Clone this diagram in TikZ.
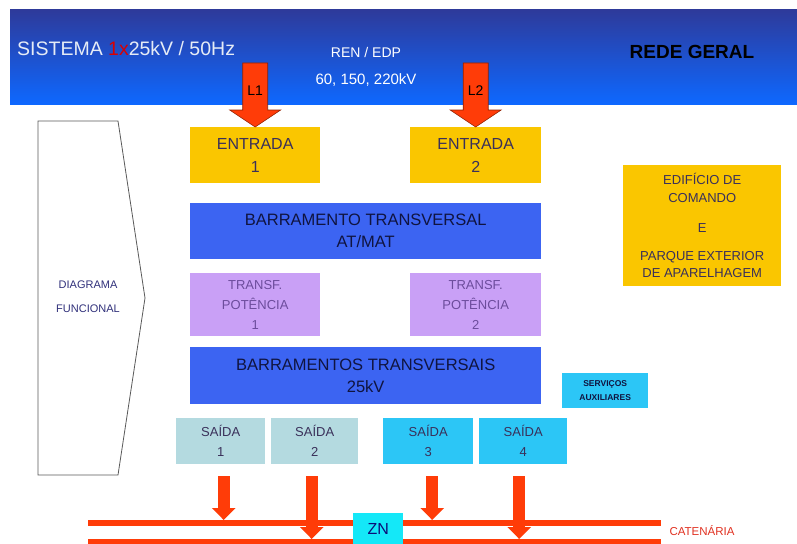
\documentclass[tikz,border=0pt]{standalone}
\usepackage{fontspec}
\setmainfont{Liberation Sans}
\usetikzlibrary{arrows.meta,calc}
\definecolor{hdrtop}{HTML}{2E3A9A}
\definecolor{hdrbot}{HTML}{0E68FF}
\definecolor{gold}{HTML}{FAC600}
\definecolor{busblue}{HTML}{3C64F2}
\definecolor{lav}{HTML}{C9A0F6}
\definecolor{lavtext}{HTML}{6C4C9C}
\definecolor{saigray}{HTML}{B4DAE0}
\definecolor{saicyan}{HTML}{2CC6F6}
\definecolor{zncyan}{HTML}{14E8F8}
\definecolor{redor}{HTML}{FF3C08}
\definecolor{rededge}{HTML}{902000}
\definecolor{darktxt}{HTML}{3A305A}
\definecolor{navytxt}{HTML}{101440}
\definecolor{diagtxt}{HTML}{30307A}
\definecolor{hdrtxt}{HTML}{E6ECF6}
\definecolor{catred}{HTML}{E03020}
\begin{document}
\begin{tikzpicture}[x=1pt,y=1pt,
  blk/.style={rectangle, anchor=north west, inner sep=0pt, align=center},
  entbox/.style={blk, fill=gold, text=darktxt, font=\fontsize{16}{23}\selectfont},
  busbox/.style={blk, fill=busblue, text=navytxt, font=\fontsize{16.5}{22}\selectfont},
  trbox/.style={blk, fill=lav, text=lavtext, font=\fontsize{13}{20}\selectfont},
  saibox/.style={blk, text=darktxt, font=\fontsize{13}{20}\selectfont},
  catline/.style={rectangle, anchor=north west, inner sep=0pt, fill=redor, minimum width=573pt, minimum height=6pt},
  bigarr/.style={fill=redor, draw=rededge, line width=0.6pt, line join=miter},
  outarr/.style={draw=redor, line width=12pt, -{Triangle[width=23pt,length=12pt]}},
  hdrtext/.style={text=white, font=\fontsize{14}{16}\selectfont, inner sep=0pt}
]
\useasboundingbox (0,0) rectangle (797,-543);

% header band
\node (hdr) [rectangle, anchor=north west, inner sep=0pt, minimum width=787pt, minimum height=95pt,
  top color=hdrtop, bottom color=hdrbot] at (10,-9) {};
\node (sis) [anchor=west, inner sep=0pt, text=hdrtxt, font=\fontsize{19.5}{21}\selectfont] at (17,-49)
  {SISTEMA {\color{red!85!black}1x}25kV / 50Hz};
\node (ren) [hdrtext] at (366,-52) {REN / EDP};
\node (kv) [hdrtext, font=\fontsize{15}{17}\selectfont] at (366,-80) {60, 150, 220kV};
\node (rede) [inner sep=0pt, font=\bfseries\fontsize{19}{21}\selectfont, text=black] at (692,-52) {REDE GERAL};

% boxes
\node (e1) [entbox, minimum width=130pt, minimum height=56pt] at (190,-127) {ENTRADA\\1};
\node (e2) [entbox, minimum width=131pt, minimum height=56pt] at (410,-127) {ENTRADA\\2};
\node (bat) [busbox, minimum width=351pt, minimum height=56pt] at (190,-203) {BARRAMENTO TRANSVERSAL\\AT/MAT};
\node (t1) [trbox, minimum width=130pt, minimum height=63pt] at (190,-273) {TRANSF.\\POTÊNCIA\\1};
\node (t2) [trbox, minimum width=131pt, minimum height=63pt] at (410,-273) {TRANSF.\\POTÊNCIA\\2};
\node (b25) [busbox, minimum width=351pt, minimum height=57pt] at (190,-347) {BARRAMENTOS TRANSVERSAIS\\25kV};
\node (serv) [blk, fill=saicyan, text=navytxt, minimum width=86pt, minimum height=35pt,
  font=\bfseries\fontsize{8.5}{14}\selectfont] at (562,-373) {SERVIÇOS\\AUXILIARES};
\node (edif) [blk, fill=gold, text=darktxt, minimum width=158pt, minimum height=121pt,
  font=\fontsize{13}{17.5}\selectfont] at (623,-165)
  {EDIFÍCIO DE\\COMANDO\\[12.5pt]E\\[10.5pt]PARQUE EXTERIOR\\DE APARELHAGEM};
\node (s1) [saibox, fill=saigray, minimum width=89pt, minimum height=46pt] at (176,-418) {SAÍDA\\1};
\node (s2) [saibox, fill=saigray, minimum width=87pt, minimum height=46pt] at (271,-418) {SAÍDA\\2};
\node (s3) [saibox, fill=saicyan, minimum width=90pt, minimum height=46pt] at (383,-418) {SAÍDA\\3};
\node (s4) [saibox, fill=saicyan, minimum width=88pt, minimum height=46pt] at (479,-418) {SAÍDA\\4};

% incoming line arrows
\filldraw[bigarr] (e1.north) -- ++(-25.5,17) -- ++(13,0) -- ++(0,47) -- ++(25,0) -- ++(0,-47) -- ++(13,0) -- cycle;
\filldraw[bigarr] (e2.north) -- ++(-25.5,17) -- ++(13,0) -- ++(0,47) -- ++(25,0) -- ++(0,-47) -- ++(13,0) -- cycle;
\node (l1) [inner sep=0pt, font=\fontsize{14}{16}\selectfont] at ($(e1.north)+(0,36)$) {L1};
\node (l2) [inner sep=0pt, font=\fontsize{14}{16}\selectfont] at ($(e2.north)+(0,36)$) {L2};

% diagrama funcional
\draw[gray!70!black, line width=0.8pt] (38,-121) -- (118,-121) -- (145,-298) -- (118,-475) -- (38,-475) -- cycle;
\node (dg) [inner sep=0pt, text=diagtxt, font=\fontsize{11}{13}\selectfont] at (88,-285) {DIAGRAMA};
\node (fn) [inner sep=0pt, text=diagtxt, font=\fontsize{11}{13}\selectfont] at (88,-309) {FUNCIONAL};

% catenaria
\node (cat1) [catline] at (88,-520) {};
\node (cat2) [catline] at (88,-539) {};
\node (zn) [blk, fill=zncyan, text=navytxt!70!blue, minimum width=50pt, minimum height=32pt,
  font=\fontsize{16}{18}\selectfont] at (353,-513) {ZN};
\node (catlbl) [inner sep=0pt, text=catred, font=\fontsize{11.5}{13}\selectfont] at (702,-531) {CATENÁRIA};

% outgoing arrows
\draw[outarr] ([xshift=3pt,yshift=-12pt]s1.south) -- ([xshift=3pt]s1.south |- cat1.north);
\draw[outarr] ([xshift=-3pt,yshift=-12pt]s2.south) -- ([xshift=-3pt]s2.south |- cat2.north);
\draw[outarr] ([xshift=4pt,yshift=-12pt]s3.south) -- ([xshift=4pt]s3.south |- cat1.north);
\draw[outarr] ([xshift=-4pt,yshift=-12pt]s4.south) -- ([xshift=-4pt]s4.south |- cat2.north);
\end{tikzpicture}
\end{document}
